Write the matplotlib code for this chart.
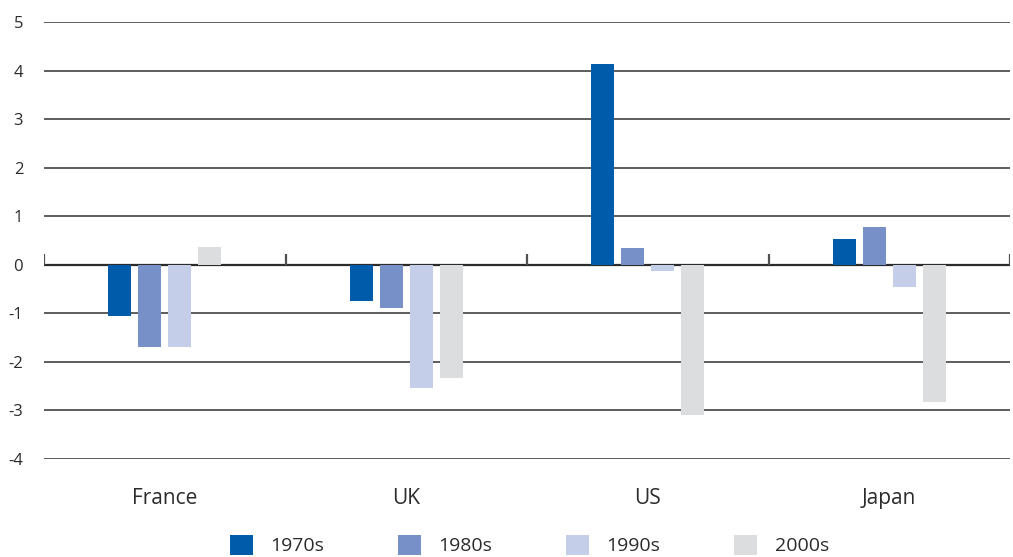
import matplotlib.pyplot as plt
import numpy as np
from matplotlib.patches import Patch

plt.rcParams['font.family'] = ['Open Sans', 'DejaVu Sans']

# Data
countries = ['France', 'UK', 'US', 'Japan']
decades = ['1970s', '1980s', '1990s', '2000s']
v1970s = [-1.05, -0.74, 4.14, 0.53]
v1980s = [-1.69, -0.90, 0.35, 0.78]
v1990s = [-1.69, -2.53, -0.12, -0.45]
v2000s = [0.37, -2.33, -3.10, -2.82]
colors = ['#005BAA', '#7890C8', '#C5CEE8', '#DCDDDF']
yticks = [-4, -3, -2, -1, 0, 1, 2, 3, 4, 5]

series = [v1970s, v1980s, v1990s, v2000s]

fig = plt.figure(figsize=(10.13, 5.57), dpi=100)
ax = fig.add_axes([44 / 1013, 1 - 459 / 557, (1010 - 44) / 1013, (459 - 22) / 557])

x = np.arange(len(countries))
bar_w = 23 / 241.5
step = 30 / 241.5
for i, (vals, c) in enumerate(zip(series, colors)):
    ax.bar(x + (i - 1.5) * step, vals, width=bar_w, color=c, zorder=3, label=decades[i])

# horizontal grid lines
for yv in yticks:
    ax.axhline(yv, color='#2b2b2b' if yv == 0 else '#505050', lw=1.6 if yv == 0 else 1.3, zorder=1)

# small ticks on the zero line between groups
for xb in np.arange(-0.5, len(countries), 1.0):
    ax.plot([xb, xb], [0, 0.22], color='#505050', lw=1.6, zorder=2, solid_capstyle='butt')

ax.set_xlim(-0.5, len(countries) - 0.5)
ax.set_ylim(-4, 5)
ax.set_yticks(yticks)
ax.set_yticklabels([str(t) for t in yticks], fontsize=12, color='#2b2b2b')
ax.tick_params(axis='y', length=0, pad=15)
ax.set_xticks(x)
ax.set_xticklabels(countries, fontsize=15, color='#2b2b2b')
ax.tick_params(axis='x', length=0, pad=21)
for s in ax.spines.values():
    s.set_visible(False)

handles = [Patch(facecolor=c, label=d) for c, d in zip(colors, decades)]
fig.legend(handles=handles, loc='lower left', bbox_to_anchor=(222 / 1013, -0.011), ncol=4,
           frameon=False, fontsize=14, handlelength=1.18, handleheight=1.18,
           handletextpad=0.9, columnspacing=3.8, labelcolor='#2b2b2b', borderaxespad=0)

fig.savefig('out.png', dpi=100)
